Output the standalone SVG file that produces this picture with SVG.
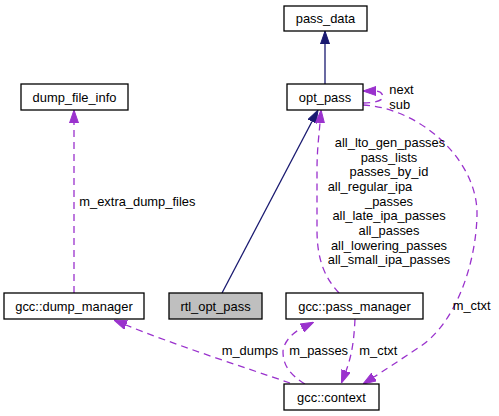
<svg xmlns="http://www.w3.org/2000/svg" width="499" height="416" viewBox="0 0 499 416">
<style>
text{font-family:"Liberation Sans",Arial,sans-serif;font-size:12.9px;fill:#000}
.n rect{fill:#fff;stroke:#000;stroke-width:1.3}
.n text{text-anchor:middle}
.inh{fill:none;stroke:#191970;stroke-width:1.3}
.use{fill:none;stroke:#9a32cd;stroke-width:1.3;stroke-dasharray:7,5}
.mid{text-anchor:middle}
</style>
<defs>
<marker id="an" viewBox="0 0 13 10" markerWidth="13" markerHeight="10" refX="0" refY="5" orient="auto" markerUnits="userSpaceOnUse">
<path d="M0,0.5 L13,5 L0,9.5 z" fill="#191970" stroke="#191970" stroke-width="1"/>
</marker>
<marker id="ap" viewBox="0 0 13 10" markerWidth="13" markerHeight="10" refX="0" refY="5" orient="auto" markerUnits="userSpaceOnUse">
<path d="M0,0.5 L13,5 L0,9.5 z" fill="#9a32cd" stroke="#9a32cd" stroke-width="1"/>
</marker>
</defs>
<g id="connectors">
<path class="inh" d="M325,84 L325,44" marker-end="url(#an)"/>
<path class="inh" d="M222,293 L312,121.5" marker-end="url(#an)"/>
<path class="use" d="M339,293 C325,278 317,260 317,230 L317,170 C317,150 319,135 320,123" marker-end="url(#ap)"/>
<path class="use" d="M363,103 C376,103 383,100 383,97 C383,94 380,91 376,91" marker-end="url(#ap)"/>
<path class="use" d="M363,105 C420,108 478,160 477,215 C476,265 455,325 418,348 C400,360 385,370 374,377" marker-end="url(#ap)"/>
<path class="use" d="M74,293 L74,123" marker-end="url(#ap)"/>
<path class="use" d="M290,383 C240,366 170,343 126,325" marker-end="url(#ap)"/>
<path class="use" d="M305,384 C290,375 283,365 283,352 C283,343 292,333 302,328" marker-end="url(#ap)"/>
<path class="use" d="M355,319 C354,340 352,355 346,371" marker-end="url(#ap)"/>
<text x="389.3" y="93.5">next</text>
<text x="389.3" y="108.5">sub</text>
<text x="79.3" y="206">m_extra_dump_files</text>
<text class="mid" x="390" y="147">all_lto_gen_passes</text>
<text class="mid" x="389" y="161.7">pass_lists</text>
<text class="mid" x="389" y="176.3">passes_by_id</text>
<text x="327.7" y="191">all_regular_ipa</text>
<text class="mid" x="389" y="205.6">_passes</text>
<text class="mid" x="389" y="220.3">all_late_ipa_passes</text>
<text class="mid" x="389" y="235">all_passes</text>
<text class="mid" x="389" y="249.6">all_lowering_passes</text>
<text class="mid" x="389" y="264.3">all_small_ipa_passes</text>
<text x="452.7" y="310">m_ctxt</text>
<text x="221.7" y="355">m_dumps</text>
<text x="289.3" y="355">m_passes</text>
<text x="359.3" y="355">m_ctxt</text>
</g>
<g id="pass_data" class="n"><rect x="284" y="6" width="83" height="25"/><text x="325.5" y="23">pass_data</text></g>
<g id="opt_pass" class="n"><rect x="287" y="84" width="76" height="26"/><text x="325" y="101.5">opt_pass</text></g>
<g id="dump_file_info" class="n"><rect x="21" y="84" width="107" height="26"/><text x="74.5" y="101.5">dump_file_info</text></g>
<g id="gcc_dump_manager" class="n"><rect x="4" y="293" width="140" height="26"/><text x="74" y="310.5">gcc::dump_manager</text></g>
<g id="rtl_opt_pass" class="n"><rect x="169" y="293" width="93" height="26" style="fill:#bfbfbf"/><text x="215.5" y="310.5">rtl_opt_pass</text></g>
<g id="gcc_pass_manager" class="n"><rect x="286" y="293" width="137" height="26"/><text x="354.5" y="310.5">gcc::pass_manager</text></g>
<g id="gcc_context" class="n"><rect x="284" y="384" width="95" height="26"/><text x="331.5" y="401.5">gcc::context</text></g>
</svg>
